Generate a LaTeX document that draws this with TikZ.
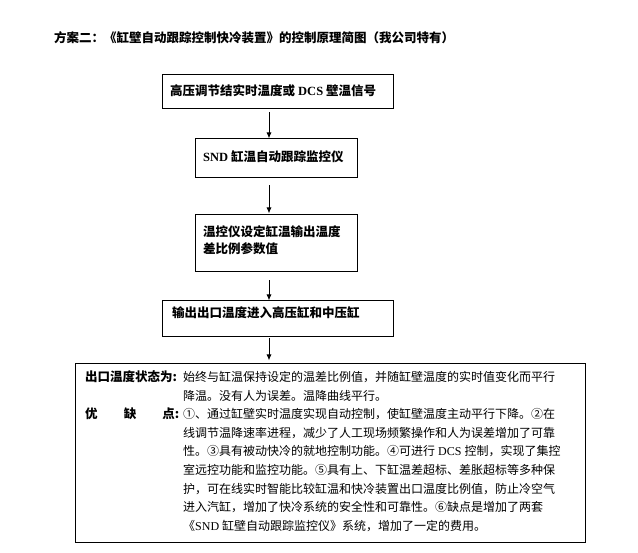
\documentclass[tikz,border=0pt]{standalone}
\usepackage{fontspec}
\setmainfont{Noto Sans CJK SC}
\newfontfamily\lat{Liberation Serif}
\usetikzlibrary{arrows.meta}
\XeTeXinterchartokenstate=1
\newcommand\jglue{\hskip 0pt plus 1fil\relax}
\XeTeXinterchartoks 1 1 = {\jglue}
\XeTeXinterchartoks 1 2 = {\jglue}
\XeTeXinterchartoks 1 3 = {\jglue}
\XeTeXinterchartoks 2 1 = {\jglue}
\XeTeXinterchartoks 3 1 = {\jglue}
\XeTeXinterchartoks 3 2 = {\jglue}
\XeTeXinterchartoks 3 3 = {\jglue}
\XeTeXinterchartoks 0 1 = {\jglue}
\XeTeXinterchartoks 1 0 = {\jglue}
\XeTeXinterchartoks 0 3 = {\jglue}
\XeTeXinterchartoks 3 0 = {\jglue}
\XeTeXinterchartoks 0 2 = {\jglue}
\newcommand\jline[2]{\hbox to #1{#2}}
\tikzset{
  boxnode/.style={draw=black, line width=1pt, inner sep=0pt},
  txt/.style={anchor=west, inner sep=0pt},
  boxtxt/.style={txt, font=\bfseries\fontsize{12.5}{15}\selectfont},
  bodytxt/.style={txt, font=\fontsize{12}{14}\selectfont},
  arr/.style={line width=1pt, -{Latex[length=6pt,width=5pt]}}
}
\begin{document}
\begin{tikzpicture}[x=1pt,y=-1pt]
\useasboundingbox[fill=white] (0,0) rectangle (638,553);
% title
\node[boxtxt, font=\bfseries\fontsize{12.5}{15}\selectfont] (title) at (54,38)
  {\jline{396pt}{方案二：《缸壁自动跟踪控制快冷装置》的控制原理简图（我公司特有）}};
% boxes
\node[boxnode, minimum width=231pt, minimum height=34pt] (b1) at (277.5,92) {};
\node[boxnode, minimum width=162pt, minimum height=39pt] (b2) at (276,158.5) {};
\node[boxnode, minimum width=162pt, minimum height=57pt] (b3) at (276,243.5) {};
\node[boxnode, minimum width=231pt, minimum height=36pt] (b4) at (277.5,319) {};
\node[boxnode, minimum width=510pt, minimum height=179pt] (b5) at (330,453.5) {};
% box texts
\node[boxtxt] (t1) at (170,91) {\jline{210pt}{高压调节结实时温度或\hspace{3pt}{\lat DCS}\hspace{3pt}壁温信号}};
\node[boxtxt] (t2) at (203,157) {{\lat SND}\hspace{3pt}缸温自动跟踪监控仪};
\node[boxtxt] (t3a) at (203,232) {\jline{146pt}{温控仪设定缸温输出温度}};
\node[boxtxt] (t3b) at (203,249) {差比例参数值};
\node[boxtxt] (t4) at (172,313) {\jline{187pt}{输出出口温度进入高压缸和中压缸}};
% arrows
\coordinate (ax) at (269,0);
\draw[arr, shorten <=3pt] (b1.south -| ax) -- (b2.north -| ax);
\draw[arr, shorten <=7pt, shorten >=1pt] (b2.south -| ax) -- (b3.north -| ax);
\draw[arr, shorten <=8pt] (b3.south -| ax) -- (b4.north -| ax);
\draw[arr, shorten <=1pt, shorten >=3pt] (b4.south -| ax) -- (b5.north -| ax);
% bottom box texts
\node[boxtxt] (l1) at (85,377) {出口温度状态为:};
\node[boxtxt] (l2) at (85,414.2) {\jline{94pt}{优\hfil 缺\hfil 点:}};
\node[bodytxt] (s1) at (183,377) {\jline{386pt}{始终与缸温保持设定的温差比例值，并随缸壁温度的实时值变化而平行}};
\node[bodytxt] (s2) at (183,395.6) {降温。没有人为误差。温降曲线平行。};
\node[bodytxt] (s3) at (183,414.2) {\jline{386pt}{①、通过缸壁实时温度实现自动控制，使缸壁温度主动平行下降。②在}};
\node[bodytxt] (s4) at (183,432.8) {\jline{386pt}{线调节温降速率进程，减少了人工现场频繁操作和人为误差增加了可靠}};
\node[bodytxt] (s5) at (183,451.4) {\jline{386pt}{性。③具有被动快冷的就地控制功能。④可进行\hspace{3pt}{\lat DCS}\hspace{3pt}控制，实现了集控}};
\node[bodytxt] (s6) at (183,470) {\jline{386pt}{室远控功能和监控功能。⑤具有上、下缸温差超标、差胀超标等多种保}};
\node[bodytxt] (s7) at (183,488.6) {\jline{386pt}{护，可在线实时智能比较缸温和快冷装置出口温度比例值，防止冷空气}};
\node[bodytxt] (s8) at (183,507.2) {\jline{386pt}{进入汽缸，增加了快冷系统的安全性和可靠性。⑥缺点是增加了两套}};
\node[bodytxt] (s9) at (183,525.8) {《{\lat SND}\hspace{3pt}缸壁自动跟踪监控仪》系统，增加了一定的费用。};
\end{tikzpicture}
\end{document}
